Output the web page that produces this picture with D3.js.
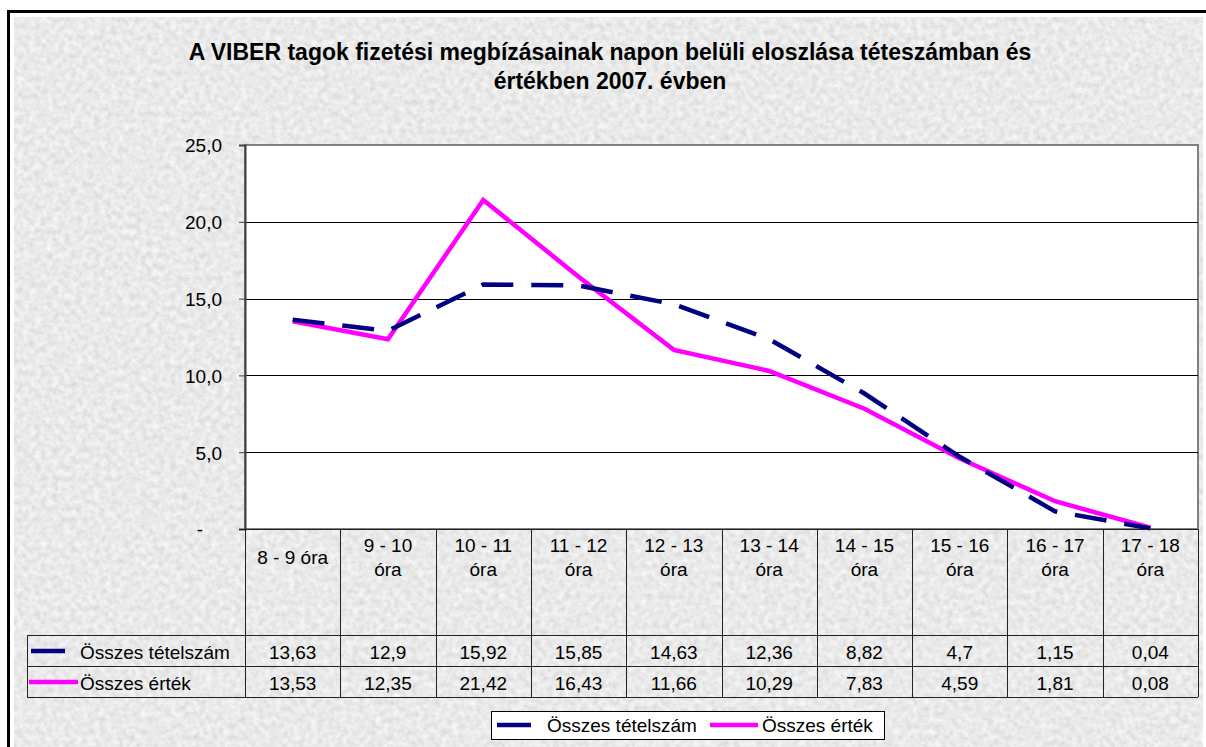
<!DOCTYPE html>
<html>
<head>
<meta charset="utf-8">
<script src="https://cdn.jsdelivr.net/npm/d3@7"></script>
<style>
  body { margin: 0; background: #fff; }
  svg text { font-family: "Liberation Sans", Arial, sans-serif; fill: #000; }
</style>
</head>
<body>
<div id="chart"></div>
<script>
// -- data --
var categories = ["8 - 9 óra", "9 - 10 óra", "10 - 11 óra", "11 - 12 óra", "12 - 13 óra",
                  "13 - 14 óra", "14 - 15 óra", "15 - 16 óra", "16 - 17 óra", "17 - 18 óra"];
var tetelszam = [13.63, 12.9, 15.92, 15.85, 14.63, 12.36, 8.82, 4.7, 1.15, 0.04];
var ertek = [13.53, 12.35, 21.42, 16.43, 11.66, 10.29, 7.83, 4.59, 1.81, 0.08];
var yTicks = [0, 5, 10, 15, 20, 25];
var seriesNames = ["Összes tételszám", "Összes érték"];
var titleLines = ["A VIBER tagok fizetési megbízásainak napon belüli eloszlása téteszámban és",
                  "értékben 2007. évben"];

// -- layout --
var width = 1206, height = 747;
var plot = { left: 245, right: 1198, top: 145, bottom: 529 };
var rowLines = [529, 635, 666, 697];
var tableLeft = 27;
var fs = 19;

var series = [
    { name: seriesNames[0], values: tetelszam, color: "#000080", dash: "32,18" },
    { name: seriesNames[1], values: ertek, color: "#ff00ff", dash: null }
];

var svg = d3.select("#chart").append("svg")
    .attr("width", width)
    .attr("height", height);

// granite-ish background texture
var defs = svg.append("defs");
var f = defs.append("filter").attr("id", "granite")
    .attr("x", 0).attr("y", 0).attr("width", 1).attr("height", 1);
f.append("feTurbulence")
    .attr("type", "fractalNoise")
    .attr("baseFrequency", 0.17)
    .attr("numOctaves", 4)
    .attr("seed", 7);
f.append("feColorMatrix")
    .attr("type", "matrix")
    .attr("values", "0.34 0 0 0 0.65  0.34 0 0 0 0.65  0.34 0 0 0 0.65  0 0 0 0 1");

svg.append("rect")
    .attr("x", 14).attr("y", 17)
    .attr("width", width - 17).attr("height", height - 17)
    .attr("filter", "url(#granite)");

// outer frame
svg.append("rect")
    .attr("x", 8.5).attr("y", 11.5)
    .attr("width", width).attr("height", height)
    .style("fill", "none")
    .style("stroke", "#000")
    .style("stroke-width", 3);

// title
svg.append("g").selectAll("text")
    .data(titleLines)
    .join("text")
    .attr("x", 610)
    .attr("y", function (d, i) { return 60 + i * 29; })
    .attr("text-anchor", "middle")
    .attr("font-size", "23px")
    .attr("font-weight", "bold")
    .text(function (d) { return d; });

// scales
var x = d3.scaleBand()
    .domain(categories)
    .range([plot.left, plot.right]);

var y = d3.scaleLinear()
    .domain([0, 25])
    .range([plot.bottom, plot.top]);

var cx = function (d) { return x(d) + x.bandwidth() / 2; };

// plot area
svg.append("rect")
    .attr("x", plot.left).attr("y", plot.top)
    .attr("width", plot.right - plot.left).attr("height", plot.bottom - plot.top)
    .style("fill", "#fff")
    .style("stroke", "#808080")
    .style("stroke-width", 2);

// gridlines
svg.append("g").selectAll("line")
    .data(yTicks.filter(function (t) { return t > 0 && t < 25; }))
    .join("line")
    .attr("x1", plot.left).attr("x2", plot.right)
    .attr("y1", function (d) { return Math.round(y(d)) + 0.5; })
    .attr("y2", function (d) { return Math.round(y(d)) + 0.5; })
    .style("stroke", "#000")
    .style("stroke-width", 1);

// y axis
var fmt = function (d) { return d === 0 ? "-" : d3.format(".1f")(d).replace(".", ","); };
var yAxis = svg.append("g")
    .attr("transform", "translate(" + plot.left + ",0)")
    .call(d3.axisLeft(y).tickValues(yTicks).tickSize(6).tickPadding(17).tickFormat(fmt));
yAxis.select(".domain").attr("stroke", "#404040").attr("stroke-width", 2);
yAxis.selectAll(".tick line").attr("stroke", "#404040");
yAxis.selectAll(".tick text")
    .attr("font-size", fs + "px")
    .attr("font-family", "Liberation Sans, Arial, sans-serif")
    .attr("fill", "#000")
    .attr("dy", "0.36em")
    .attr("dx", function (d) { return d === 0 ? -19 : 0; });

// series lines
var line = d3.line()
    .x(function (d, i) { return cx(categories[i]); })
    .y(function (d) { return y(d); });

svg.append("g").selectAll("path")
    .data(series.slice().reverse())
    .join("path")
    .attr("d", function (s) { return line(s.values); })
    .style("fill", "none")
    .style("stroke", function (s) { return s.color; })
    .style("stroke-width", 4.5)
    .style("stroke-linejoin", "miter")
    .style("stroke-dasharray", function (s) { return s.dash; });

// data table
var table = svg.append("g").style("stroke", "#222").style("stroke-width", 1);

// vertical column lines
table.selectAll("line.col")
    .data(categories.concat(["end"]))
    .join("line")
    .attr("class", "col")
    .attr("x1", function (d, i) { return Math.round(plot.left + i * x.bandwidth()) + 0.5; })
    .attr("x2", function (d, i) { return Math.round(plot.left + i * x.bandwidth()) + 0.5; })
    .attr("y1", plot.bottom)
    .attr("y2", rowLines[3]);

// horizontal row lines
svg.append("g").selectAll("line")
    .data(rowLines.slice(1))
    .join("line")
    .attr("x1", tableLeft).attr("x2", plot.right)
    .attr("y1", function (d) { return d + 0.5; })
    .attr("y2", function (d) { return d + 0.5; })
    .style("stroke", "#222");
svg.append("line")
    .attr("x1", tableLeft + 0.5).attr("x2", tableLeft + 0.5)
    .attr("y1", rowLines[1]).attr("y2", rowLines[3])
    .style("stroke", "#222");
svg.append("line")
    .attr("x1", plot.left - 6).attr("x2", plot.right)
    .attr("y1", plot.bottom + 0.5).attr("y2", plot.bottom + 0.5)
    .style("stroke", "#222");

// header labels, wrapped like Excel does
var head = svg.append("g").selectAll("text")
    .data(categories)
    .join("text")
    .attr("text-anchor", "middle")
    .attr("font-size", fs + "px")
    .attr("x", cx)
    .attr("y", 564)
    .text(function (d) { return d; });

head.each(function (d) {
    var t = d3.select(this);
    if (this.getComputedTextLength() > x.bandwidth() - 16) {
        var k = d.lastIndexOf(" ");
        t.text(null);
        t.append("tspan").attr("x", cx(d)).attr("y", 552).text(d.slice(0, k));
        t.append("tspan").attr("x", cx(d)).attr("y", 576).text(d.slice(k + 1));
    }
});

// value rows
series.forEach(function (s, si) {
    var by = rowLines[si + 1] + 24;
    svg.append("g").selectAll("text")
        .data(s.values)
        .join("text")
        .attr("text-anchor", "middle")
        .attr("font-size", fs + "px")
        .attr("x", function (d, i) { return cx(categories[i]); })
        .attr("y", by)
        .text(function (d) { return String(d).replace(".", ","); });

    // legend key inside table
    var ky = rowLines[si + 1] + 16;
    svg.append("line")
        .attr("x1", si === 0 ? 31 : 29).attr("x2", si === 0 ? 65 : 78)
        .attr("y1", ky).attr("y2", ky)
        .style("stroke", s.color)
        .style("stroke-width", 4.5);
    svg.append("text")
        .attr("x", 80).attr("y", by)
        .attr("font-size", fs + "px")
        .text(s.name);
});

// legend
var legend = svg.append("g");
legend.append("rect")
    .attr("x", 491.5).attr("y", 711.5)
    .attr("width", 393).attr("height", 28)
    .style("fill", "#fff")
    .style("stroke", "#000");

var legendItems = [
    { x1: 497, x2: 531, tx: 547 },
    { x1: 710, x2: 758, tx: 762 }
];
series.forEach(function (s, i) {
    var it = legendItems[i];
    legend.append("line")
        .attr("x1", it.x1).attr("x2", it.x2)
        .attr("y1", 725).attr("y2", 725)
        .style("stroke", s.color)
        .style("stroke-width", 4.5);
    legend.append("text")
        .attr("x", it.tx).attr("y", 732)
        .attr("font-size", fs + "px")
        .text(s.name);
});
</script>
</body>
</html>
